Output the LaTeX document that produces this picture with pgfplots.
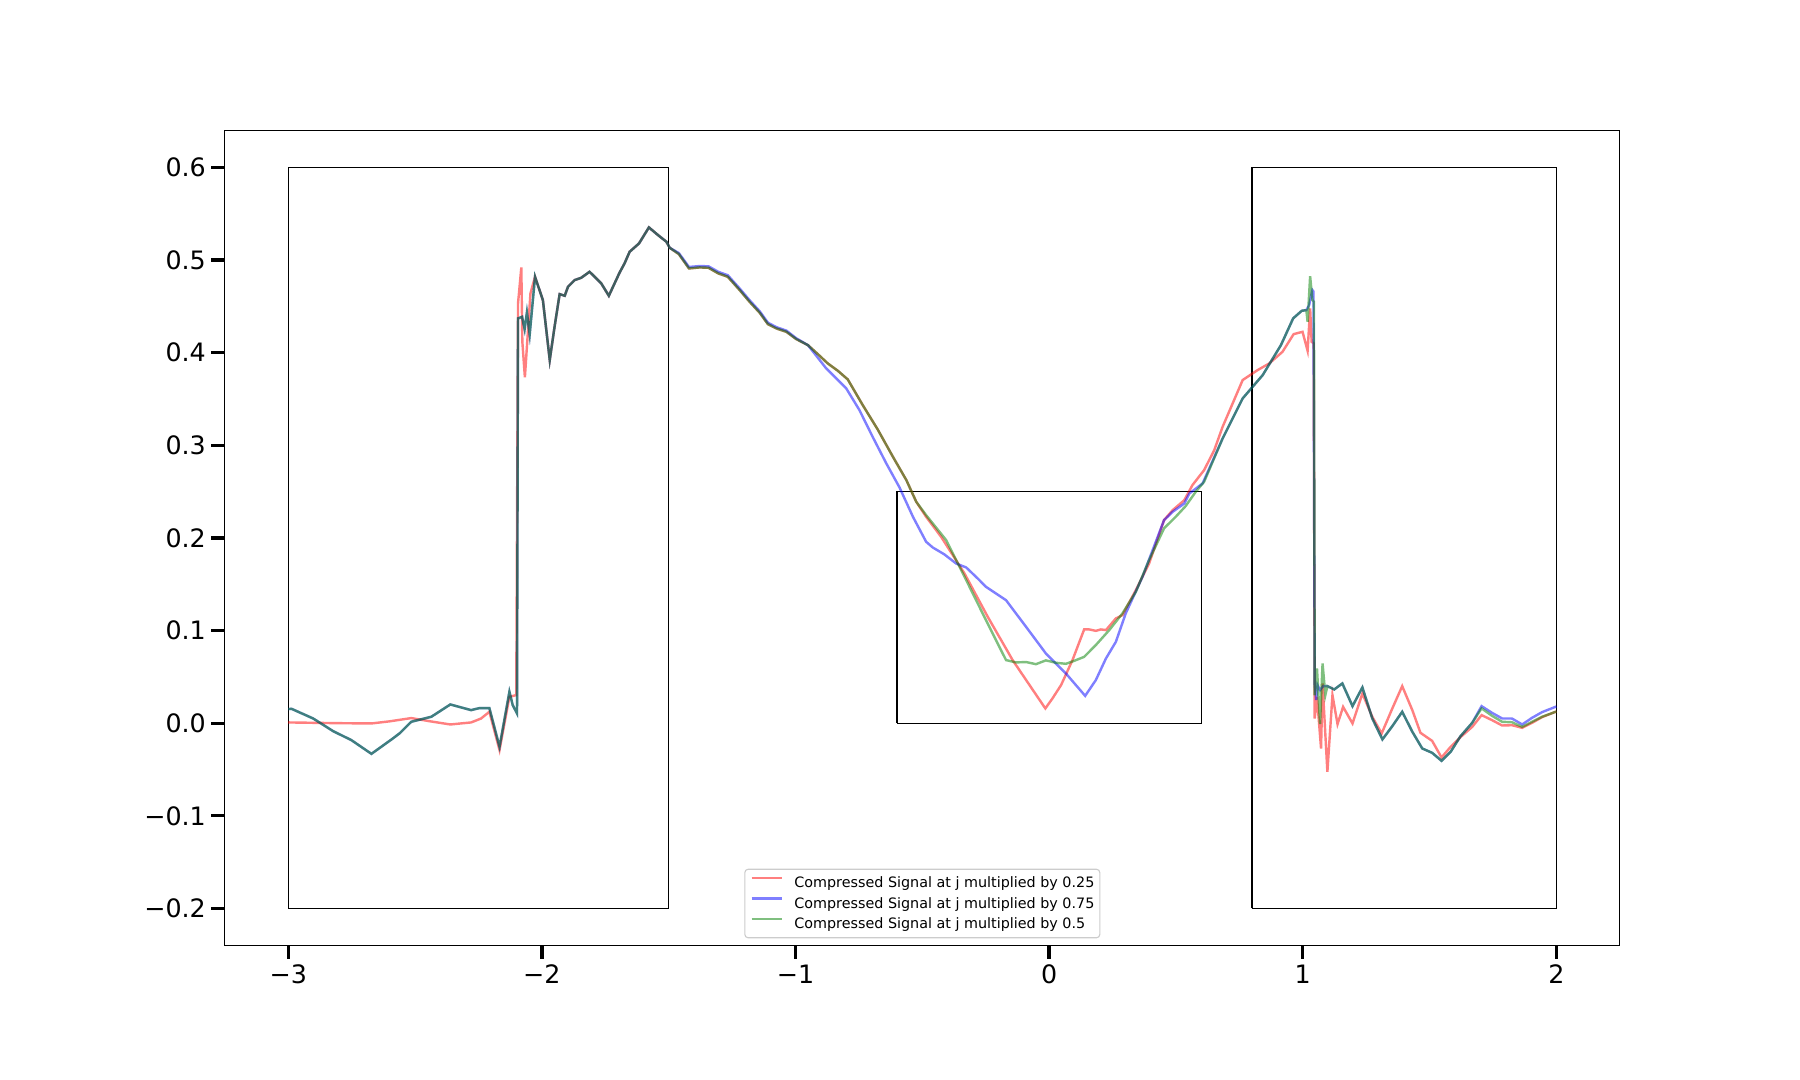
\documentclass[border=0pt]{standalone}
\usepackage{fontspec}
\setmainfont{DejaVu Sans}
\usepackage{pgfplots}
\pgfplotsset{compat=1.18}

\definecolor{legframe}{RGB}{204,204,204}

\begin{document}
\begin{tikzpicture}
\useasboundingbox (0,0) rectangle (1080pt,648pt);
\begin{axis}[
    at={(134.9pt,80.7pt)}, anchor=south west,
    scale only axis,
    width=837pt, height=489.1pt,
    xmin=-3.25, xmax=2.25,
    ymin=-0.24, ymax=0.64,
    xtick={-3,-2,-1,0,1,2},
    xticklabels={−3,−2,−1,0,1,2},
    ytick={-0.2,-0.1,0,0.1,0.2,0.3,0.4,0.5,0.6},
    yticklabels={−0.2,−0.1,0.0,0.1,0.2,0.3,0.4,0.5,0.6},
    tick label style={font=\fontsize{15.2}{18}\selectfont},
    xticklabel style={inner xsep=0pt, inner ysep=3.4pt},
    yticklabel style={inner ysep=0pt, inner xsep=3.2pt},
    tick align=outside,
    xtick pos=left, ytick pos=left,
    major tick length=8pt,
    tick style={black, line width=2pt},
    axis line style={black, line width=0.67pt},
    legend cell align=left,
    legend style={at={(0.5,0)}, anchor=south, yshift=4.3pt,
        font=\fontsize{8.6}{10.3}\selectfont,
        draw=legframe, line width=0.67pt, rounded corners=2pt,
        fill=white, fill opacity=0.8, text opacity=1,
        inner xsep=3.3pt, inner ysep=3.4pt, row sep=2.9pt,
        nodes={inner sep=0pt, text height=7.5pt, text depth=2pt},
        /tikz/every odd column/.style={column sep=7pt}},
    legend image code/.code={\draw[#1] (0pt,3pt) -- (18pt,3pt);},
]

% boxes
\addplot[black, line width=0.75pt, forget plot] coordinates {(-3,-0.2) (-3,0.6) (-1.5,0.6) (-1.5,-0.2) (-3,-0.2)};
\addplot[black, line width=0.75pt, forget plot] coordinates {(-0.6,0) (-0.6,0.25) (0.6,0.25) (0.6,0) (-0.6,0)};
\addplot[black, line width=0.75pt, forget plot] coordinates {(0.8,-0.2) (0.8,0.6) (2,0.6) (2,-0.2) (0.8,-0.2)};

% 0.25
\addplot[red, draw opacity=0.5, line width=1.45pt] coordinates {
(-3.000,0.0008) (-2.800,0.0000) (-2.672,-0.0003) (-2.600,0.0020) (-2.515,0.0055)
(-2.440,0.0020) (-2.361,-0.0014) (-2.279,0.0008) (-2.240,0.0050) (-2.207,0.0123)
(-2.167,-0.0290) (-2.128,0.0285) (-2.101,0.0303) (-2.094,0.4532) (-2.081,0.4920)
(-2.077,0.4117) (-2.067,0.3733) (-2.045,0.4640) (-2.027,0.4819)
(-1.996,0.4567) (-1.969,0.3920) (-1.950,0.4279) (-1.930,0.4632) (-1.910,0.4614)
(-1.897,0.4711) (-1.871,0.4783) (-1.845,0.4808) (-1.812,0.4873) (-1.766,0.4748)
(-1.736,0.4614) (-1.694,0.4862) (-1.674,0.4964) (-1.654,0.5089) (-1.617,0.5179)
(-1.578,0.5352) (-1.542,0.5269) (-1.509,0.5197) (-1.496,0.5132)
(-1.460,0.5064) (-1.420,0.4909) (-1.378,0.4920) (-1.343,0.4916) (-1.304,0.4855)
(-1.267,0.4819) (-1.220,0.4675) (-1.181,0.4549) (-1.141,0.4430) (-1.109,0.4308)
(-1.076,0.4262) (-1.036,0.4225) (-0.997,0.4146) (-0.951,0.4081) (-0.912,0.3984)
(-0.873,0.3884) (-0.833,0.3804) (-0.794,0.3711) (-0.735,0.3434) (-0.676,0.3171)
(-0.616,0.2876) (-0.563,0.2624) (-0.524,0.2390)
(-0.485,0.2228) (-0.426,0.2012) (-0.334,0.1617) (-0.242,0.1148) (-0.144,0.0681)
(-0.015,0.0159) (0.013,0.0267) (0.047,0.0411) (0.092,0.0681) (0.138,0.1012)
(0.158,0.1012) (0.184,0.0997) (0.204,0.1012) (0.224,0.1005) (0.263,0.1131)
(0.289,0.1166) (0.342,0.1437) (0.394,0.1724) (0.453,0.2192) (0.487,0.2300)
(0.533,0.2408) (0.565,0.2570) (0.611,0.2732) (0.651,0.2948) (0.684,0.3200)
(0.763,0.3704) (0.822,0.3812) (0.868,0.3884) (0.920,0.4009) (0.964,0.4200)
(0.999,0.4225) (1.019,0.4020) (1.029,0.4478) (1.035,0.4117) (1.043,0.4100)
(1.047,0.0050) (1.056,0.0285) (1.072,-0.0273) (1.078,0.0429) (1.097,-0.0525)
(1.117,0.0303) (1.137,-0.0010) (1.159,0.0176) (1.196,-0.0003) (1.235,0.0320)
(1.274,0.0069) (1.311,-0.0111) (1.353,0.0159) (1.392,0.0400) (1.432,0.0140)
(1.464,-0.0104) (1.510,-0.0191) (1.547,-0.0370) (1.583,-0.0255) (1.622,-0.0150)
(1.668,-0.0040) (1.705,0.0087) (1.746,0.0033) (1.786,-0.0025) (1.825,-0.0022)
(1.865,-0.0050) (1.904,0.0004) (1.944,0.0066) (1.996,0.0122) (2.000,0.0125)
};
\addlegendentry{Compressed Signal at j multiplied by 0.25}

% 0.75
\addplot[blue, draw opacity=0.5, line width=1.45pt] coordinates {
(-3.000,0.0152) (-2.987,0.0155) (-2.902,0.0051) (-2.823,-0.0086) (-2.751,-0.0183)
(-2.672,-0.0331) (-2.593,-0.0176) (-2.561,-0.0110) (-2.515,0.0015) (-2.436,0.0069)
(-2.361,0.0202) (-2.279,0.0141) (-2.246,0.0163) (-2.207,0.0163) (-2.167,-0.0255)
(-2.128,0.0339) (-2.115,0.0195) (-2.098,0.0105) (-2.094,0.4370) (-2.078,0.4387)
(-2.068,0.4254) (-2.059,0.4434) (-2.048,0.4197) (-2.027,0.4819)
(-1.996,0.4567) (-1.969,0.3920) (-1.950,0.4279) (-1.930,0.4632) (-1.910,0.4614)
(-1.897,0.4711) (-1.871,0.4783) (-1.845,0.4808) (-1.812,0.4873) (-1.766,0.4748)
(-1.736,0.4614) (-1.694,0.4862) (-1.674,0.4964) (-1.654,0.5089) (-1.617,0.5179)
(-1.578,0.5352) (-1.542,0.5269) (-1.509,0.5197) (-1.496,0.5132)
(-1.460,0.5075) (-1.420,0.4925) (-1.378,0.4935) (-1.343,0.4932) (-1.304,0.4872)
(-1.267,0.4836) (-1.220,0.4692) (-1.181,0.4566) (-1.141,0.4446) (-1.109,0.4324)
(-1.076,0.4276) (-1.036,0.4238) (-0.997,0.4155) (-0.951,0.4081)
(-0.879,0.3830) (-0.800,0.3614) (-0.748,0.3380) (-0.696,0.3092) (-0.642,0.2804)
(-0.590,0.2545) (-0.537,0.2228) (-0.485,0.1958) (-0.459,0.1897) (-0.413,0.1822)
(-0.367,0.1724) (-0.327,0.1681) (-0.282,0.1563) (-0.249,0.1472) (-0.170,0.1328)
(-0.091,0.1040) (-0.013,0.0753) (0.066,0.0537) (0.142,0.0295) (0.184,0.0465)
(0.224,0.0699) (0.263,0.0878) (0.302,0.1185) (0.368,0.1580) (0.453,0.2192)
(0.487,0.2282) (0.533,0.2372) (0.553,0.2480) (0.605,0.2588) (0.684,0.3074)
(0.763,0.3506) (0.842,0.3758) (0.914,0.4082) (0.962,0.4370) (0.996,0.4452)
(1.014,0.4459) (1.025,0.4513) (1.038,0.4675) (1.042,0.4660)
(1.047,0.0411) (1.053,0.0250) (1.058,0.0411) (1.068,0.0357) (1.080,0.0400)
(1.097,0.0400) (1.124,0.0364) (1.156,0.0429) (1.196,0.0184) (1.235,0.0386)
(1.274,0.0051) (1.314,-0.0175) (1.353,-0.0032) (1.392,0.0123) (1.432,-0.0093)
(1.471,-0.0273) (1.510,-0.0320) (1.547,-0.0406) (1.583,-0.0309) (1.622,-0.0140)
(1.668,0.0004) (1.705,0.0184) (1.746,0.0112) (1.786,0.0051) (1.825,0.0050)
(1.865,-0.0014) (1.904,0.0058) (1.944,0.0120) (1.996,0.0176) (2.000,0.0180)
};
\addlegendentry{Compressed Signal at j multiplied by 0.75}

% 0.5
\addplot[green!50!black, draw opacity=0.5, line width=1.45pt] coordinates {
(-3.000,0.0152) (-2.987,0.0155) (-2.902,0.0051) (-2.823,-0.0086) (-2.751,-0.0183)
(-2.672,-0.0331) (-2.593,-0.0176) (-2.561,-0.0110) (-2.515,0.0015) (-2.436,0.0069)
(-2.361,0.0202) (-2.279,0.0141) (-2.246,0.0163) (-2.207,0.0163) (-2.167,-0.0255)
(-2.128,0.0339) (-2.115,0.0195) (-2.098,0.0105) (-2.094,0.4370) (-2.078,0.4387)
(-2.068,0.4254) (-2.059,0.4434) (-2.048,0.4197) (-2.027,0.4819)
(-1.996,0.4567) (-1.969,0.3920) (-1.950,0.4279) (-1.930,0.4632) (-1.910,0.4614)
(-1.897,0.4711) (-1.871,0.4783) (-1.845,0.4808) (-1.812,0.4873) (-1.766,0.4748)
(-1.736,0.4614) (-1.694,0.4862) (-1.674,0.4964) (-1.654,0.5089) (-1.617,0.5179)
(-1.578,0.5352) (-1.542,0.5269) (-1.509,0.5197) (-1.496,0.5132)
(-1.460,0.5064) (-1.420,0.4909) (-1.378,0.4920) (-1.343,0.4916) (-1.304,0.4855)
(-1.267,0.4819) (-1.220,0.4675) (-1.181,0.4549) (-1.141,0.4430) (-1.109,0.4308)
(-1.076,0.4262) (-1.036,0.4225) (-0.997,0.4146) (-0.951,0.4081) (-0.912,0.3984)
(-0.873,0.3884) (-0.833,0.3804) (-0.794,0.3711) (-0.735,0.3434) (-0.676,0.3171)
(-0.616,0.2876) (-0.563,0.2624) (-0.524,0.2390)
(-0.485,0.2246) (-0.406,0.1976) (-0.327,0.1544) (-0.249,0.1112) (-0.170,0.0681)
(-0.131,0.0656) (-0.091,0.0660) (-0.052,0.0637) (-0.013,0.0678) (0.027,0.0652)
(0.066,0.0641) (0.099,0.0673) (0.138,0.0716) (0.184,0.0843) (0.237,0.1005)
(0.289,0.1185) (0.342,0.1419) (0.394,0.1760) (0.453,0.2103) (0.499,0.2228)
(0.538,0.2343) (0.578,0.2498) (0.611,0.2606) (0.684,0.3074) (0.763,0.3506)
(0.842,0.3758) (0.914,0.4082) (0.962,0.4370) (0.996,0.4452) (1.014,0.4459)
(1.019,0.4333) (1.029,0.4826) (1.038,0.4567) (1.044,0.4550)
(1.047,0.0300) (1.056,0.0591) (1.068,-0.0010) (1.078,0.0645) (1.089,0.0303)
(1.097,0.0400) (1.124,0.0364) (1.156,0.0429) (1.196,0.0184) (1.235,0.0386)
(1.274,0.0051) (1.314,-0.0175) (1.353,-0.0032) (1.392,0.0123) (1.432,-0.0093)
(1.471,-0.0273) (1.510,-0.0320) (1.547,-0.0406) (1.583,-0.0309) (1.622,-0.0140)
(1.668,0.0004) (1.705,0.0160) (1.746,0.0080) (1.786,0.0015) (1.825,0.0010)
(1.865,-0.0040) (1.904,0.0015) (1.944,0.0070) (1.996,0.0122) (2.000,0.0125)
};
\addlegendentry{Compressed Signal at j multiplied by 0.5}

\end{axis}
\end{tikzpicture}
\end{document}
